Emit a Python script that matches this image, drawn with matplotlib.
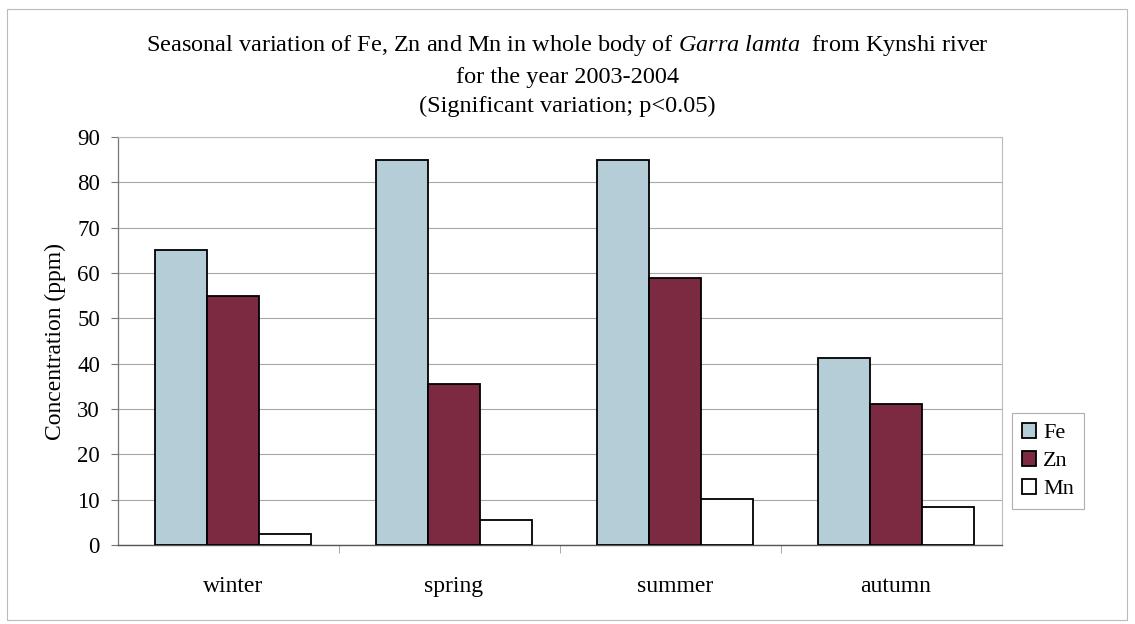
import matplotlib
matplotlib.use("Agg")
import matplotlib.pyplot as plt
import numpy as np
from matplotlib.patches import Rectangle

seasons = ["winter", "spring", "summer", "autumn"]
series_names = ["Fe", "Zn", "Mn"]
fe = [65, 85, 85, 41.3]
zn = [55, 35.5, 59, 31.1]
mn = [2.4, 5.5, 10.2, 8.4]
yticks = [0, 10, 20, 30, 40, 50, 60, 70, 80, 90]

colors = ["#b4cdd6", "#7b2a42", "#ffffff"]

plt.rcParams['font.family'] = ['Liberation Serif', 'DejaVu Serif']
plt.rcParams['mathtext.fontset'] = 'custom'
plt.rcParams['mathtext.rm'] = 'Liberation Serif'
plt.rcParams['mathtext.it'] = 'Liberation Serif:italic'

fig = plt.figure(figsize=(11.35, 6.24), dpi=100)
ax = fig.add_axes([118/1135, 1 - 545/624, (1002-118)/1135, (545-137)/624])

x = np.arange(len(seasons))
w = 0.235
for i, (vals, c, name) in enumerate(zip([fe, zn, mn], colors, series_names)):
    ax.bar(x + (i - 1) * w + 0.02, vals, width=w, color=c, edgecolor="black",
           linewidth=1.3, label=name, zorder=3)

ax.set_xlim(-0.5, len(seasons) - 0.5)
ax.set_ylim(0, 90)
ax.set_yticks(yticks)
ax.set_yticklabels([str(t) for t in yticks], fontsize=16.5)
ax.set_xticks(x + 0.02)
ax.set_xticklabels(seasons, fontsize=17)
ax.tick_params(axis='x', length=0, pad=22)
ax.tick_params(axis='y', length=5, direction='out', color='#777777', width=0.8, pad=8)
ax.set_xticks(np.arange(0.5, len(seasons) - 0.5), minor=True)
ax.tick_params(axis='x', which='minor', length=6, direction='out', color='#999999')
ax.grid(axis='y', color='#a8a8a8', linewidth=0.8, zorder=0)

for s in ['top', 'right']:
    ax.spines[s].set_color('#bbbbbb')
    ax.spines[s].set_linewidth(0.8)
ax.spines['left'].set_color('#777777')
ax.spines['bottom'].set_color('#555555')
ax.spines['left'].set_linewidth(0.9)
ax.spines['bottom'].set_linewidth(1.0)

ax.set_ylabel("Concentration (ppm)", fontsize=17, labelpad=8)

fig.text(0.5, 1 - 46/624,
         r"Seasonal variation of Fe, Zn and Mn in whole body of $\mathit{Garra\ lamta}$  from Kynshi river",
         ha='center', va='center', fontsize=17.5)
fig.text(0.5, 1 - 77/624, "for the year 2003-2004", ha='center', va='center', fontsize=17.5)
fig.text(0.5, 1 - 106/624, "(Significant variation; p<0.05)", ha='center', va='center', fontsize=17.5)

leg = fig.legend(loc='center left', bbox_to_anchor=(1012/1135, 1 - 461/624),
                 fontsize=16, frameon=True, fancybox=False, edgecolor='#999999',
                 handlelength=0.65, handleheight=0.65, handletextpad=0.3,
                 borderpad=0.45, labelspacing=0.35, borderaxespad=0)
leg.get_frame().set_linewidth(0.8)

fig.patches.append(Rectangle((7/1135, 1 - 620/624), (1127-7)/1135, (620-9)/624,
                             transform=fig.transFigure, fill=False,
                             edgecolor='#bbbbbb', linewidth=0.8))

fig.savefig("out.png", dpi=100)
